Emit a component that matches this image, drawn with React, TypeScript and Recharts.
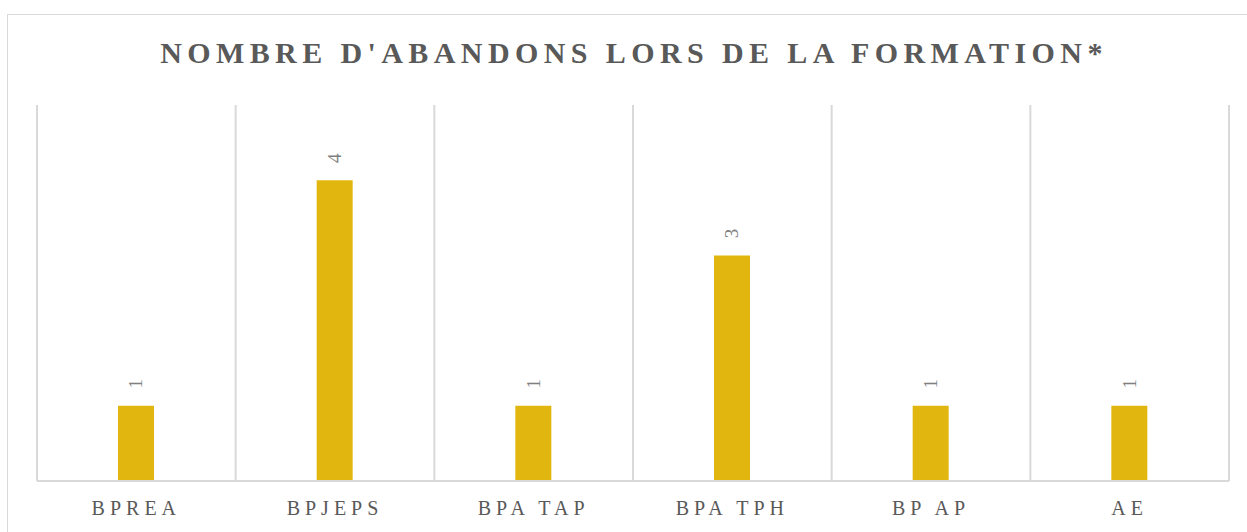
import { BarChart, Bar, XAxis, YAxis, CartesianGrid, LabelList } from 'recharts';

const categories = ['BPREA', 'BPJEPS', 'BPA TAP', 'BPA TPH', 'BP AP', 'AE'];
const abandons = [1, 4, 1, 3, 1, 1];

const data = categories.map((name, i) => ({ name, abandons: abandons[i] }));

const FONT = '"Liberation Serif", "Times New Roman", serif';

const RotatedLabel = (props: any) => {
  const { x, y, width, value } = props;
  const cx = Number(x) + Number(width) / 2;
  const cy = Number(y) - 22;
  return (
    <text
      x={cx}
      y={cy}
      transform={`rotate(-90, ${cx}, ${cy})`}
      textAnchor="middle"
      dominantBaseline="central"
      fill="#7F7F7F"
      fontSize={19}
      fontFamily={FONT}
    >
      {value}
    </text>
  );
};

export default function App() {
  return (
    <div style={{ position: 'absolute', left: 0, top: 0, width: 1247, height: 532, background: '#fff', overflow: 'hidden' }}>
      <div
        style={{
          position: 'absolute',
          left: 7,
          top: 14,
          width: 1250,
          height: 540,
          border: '1px solid #D9D9D9',
          boxSizing: 'border-box',
        }}
      />
      <div
        style={{
          position: 'absolute',
          left: 0,
          width: 1268,
          top: 35,
          textAlign: 'center',
          fontFamily: FONT,
          fontWeight: 'bold',
          fontSize: 30,
          letterSpacing: 5.4,
          color: '#595959',
          lineHeight: '35px',
        }}
      >
        NOMBRE D'ABANDONS LORS DE LA FORMATION*
      </div>
      <div style={{ position: 'absolute', left: 0, top: 0 }}>
        <BarChart
          width={1247}
          height={532}
          data={data}
          margin={{ top: 105, right: 18, bottom: 21, left: 37 }}
        >
          <CartesianGrid
            horizontal={false}
            stroke="#D9D9D9"
            strokeWidth={2}
            verticalCoordinatesGenerator={({ offset }: any) =>
              categories.map((_, i) => offset.left + (i * offset.width) / categories.length).concat(offset.left + offset.width)
            }
          />
          <XAxis
            dataKey="name"
            height={30}
            tickLine={false}
            tickSize={0}
            tickMargin={20}
            axisLine={{ stroke: '#D9D9D9', strokeWidth: 2 }}
            tick={{ fill: '#595959', fontSize: 20, fontFamily: FONT, letterSpacing: 5 }}
            interval={0}
          />
          <YAxis hide domain={[0, 5]} />
          <Bar dataKey="abandons" fill="#E1B70F" barSize={36} isAnimationActive={false}>
            <LabelList dataKey="abandons" content={RotatedLabel} />
          </Bar>
        </BarChart>
      </div>
    </div>
  );
}
